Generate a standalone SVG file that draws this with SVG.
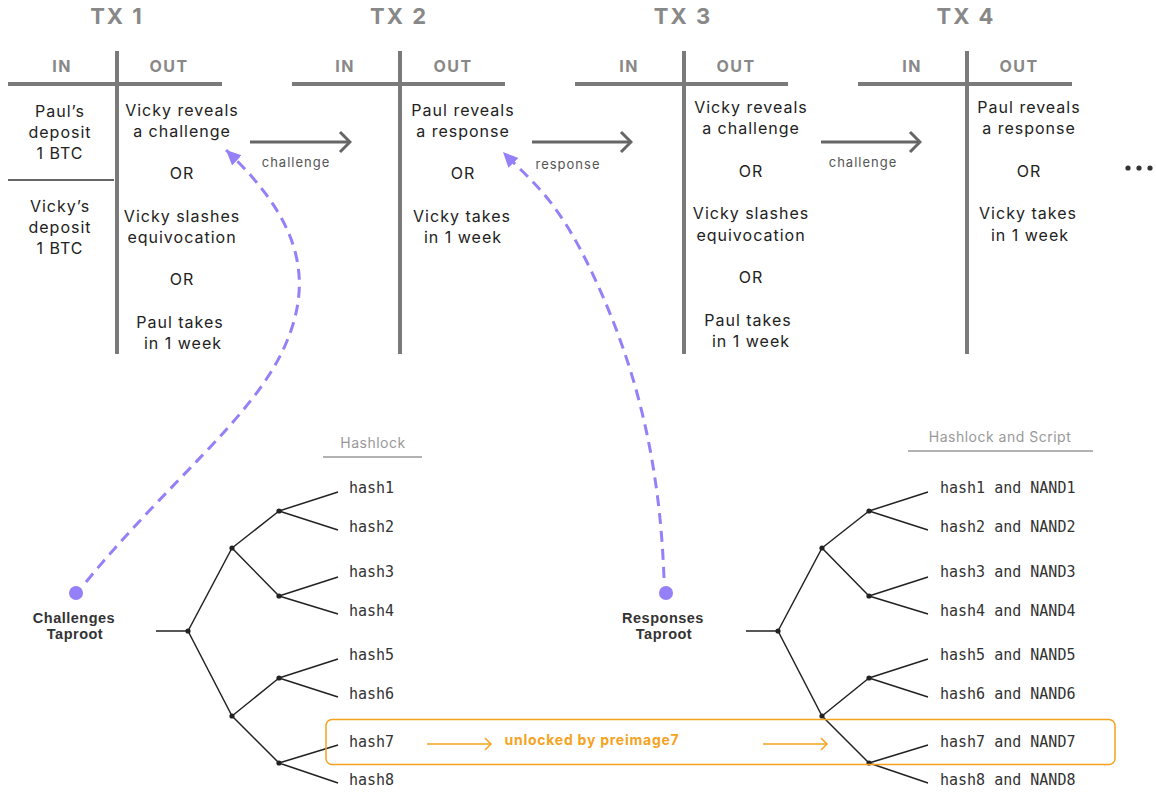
<svg xmlns="http://www.w3.org/2000/svg" width="1156" height="792" viewBox="0 0 1156 792">
<style>
.title{font-family:Inter,'Liberation Sans',sans-serif;font-weight:700;font-size:22px;fill:#888;text-anchor:middle;letter-spacing:2px}
.hdr{font-family:Inter,'Liberation Sans',sans-serif;font-weight:700;font-size:16px;fill:#888;text-anchor:middle;letter-spacing:1.5px}
.t{font-family:Inter,'Liberation Sans',sans-serif;font-size:16px;fill:#222;text-anchor:middle;letter-spacing:1px}
.thick{stroke:#7a7a7a;stroke-width:4;fill:none}
.sep{stroke:#333;stroke-width:1.5}
.lbl{font-family:Inter,'Liberation Sans',sans-serif;font-size:13px;fill:#555;text-anchor:middle;letter-spacing:1px}
.arrow{stroke:#666;stroke-width:3;fill:none;marker-end:url(#chev)}
.dash{stroke:#9580f8;stroke-width:3;fill:none;stroke-dasharray:11 7;marker-end:url(#tri)}
.tree{stroke:#222;stroke-width:1.5;fill:none}
.dot{fill:#222}
.mono{font-family:'DejaVu Sans Mono','Liberation Mono',monospace;font-size:15px;fill:#333}
.cap{font-family:Inter,'Liberation Sans',sans-serif;font-size:14px;fill:#999;text-anchor:middle;letter-spacing:0.5px}
.capline{stroke:#999;stroke-width:1.5}
.root{font-family:'Liberation Sans',Arial,sans-serif;font-weight:700;font-size:14.5px;fill:#333;text-anchor:middle;letter-spacing:0.5px}
.orbox{fill:none;stroke:#f5a31f;stroke-width:1.5}
.orarrow{stroke:#f5a31f;stroke-width:1.5;fill:none;marker-end:url(#ochev)}
.ortext{font-family:Inter,'Liberation Sans',sans-serif;font-weight:700;font-size:14px;fill:#f5a31f;text-anchor:middle;letter-spacing:0.75px}
.purple{fill:#9580f8}
</style>
<defs>
<marker id="chev" markerUnits="userSpaceOnUse" viewBox="-12 -12 14 24" refX="0" refY="0" markerWidth="14" markerHeight="24" orient="auto">
<path d="M-10,-10 L0,0 L-10,10" fill="none" stroke="#666" stroke-width="3" stroke-linejoin="miter"/>
</marker>
<marker id="ochev" markerUnits="userSpaceOnUse" viewBox="-8 -7 10 14" refX="0" refY="0" markerWidth="10" markerHeight="14" orient="auto">
<path d="M-6,-6 L0,0 L-6,6" fill="none" stroke="#f5a31f" stroke-width="1.5"/>
</marker>
<marker id="tri" markerUnits="userSpaceOnUse" viewBox="0 -8 16 16" refX="15" refY="0" markerWidth="16" markerHeight="16" orient="auto">
<path d="M0,-7 L15,0 L0,7 Z" fill="#9580f8"/>
</marker>
</defs>
<rect width="1156" height="792" fill="#fff"/>

<g id="tx1">
<text class="title" x="117" y="24">TX 1</text>
<line class="thick" x1="8" y1="84" x2="222" y2="84"/>
<line class="thick" x1="117" y1="51" x2="117" y2="354"/>
<text class="hdr" x="62" y="72">IN</text>
<text class="hdr" x="169" y="72">OUT</text>
<text class="t" x="60" y="117">Paul’s</text>
<text class="t" x="60" y="138">deposit</text>
<text class="t" x="60" y="159">1 BTC</text>
<line class="sep" x1="8" y1="180" x2="114" y2="180"/>
<text class="t" x="60" y="212">Vicky’s</text>
<text class="t" x="60" y="233">deposit</text>
<text class="t" x="60" y="254">1 BTC</text>
<text class="t" x="182" y="116">Vicky reveals</text>
<text class="t" x="182" y="137">a challenge</text>
<text class="t" x="182" y="179">OR</text>
<text class="t" x="182" y="222">Vicky slashes</text>
<text class="t" x="182" y="243">equivocation</text>
<text class="t" x="182" y="285">OR</text>
<text class="t" x="180" y="328">Paul takes</text>
<text class="t" x="183" y="349">in 1 week</text>
</g>

<g id="tx2">
<text class="title" x="399" y="24">TX 2</text>
<line class="thick" x1="292" y1="84" x2="505" y2="84"/>
<line class="thick" x1="400" y1="51" x2="400" y2="354"/>
<text class="hdr" x="345" y="72">IN</text>
<text class="hdr" x="453" y="72">OUT</text>
<text class="t" x="463" y="116">Paul reveals</text>
<text class="t" x="463" y="137">a response</text>
<text class="t" x="463" y="179">OR</text>
<text class="t" x="462" y="222">Vicky takes</text>
<text class="t" x="463" y="243">in 1 week</text>
</g>

<g id="tx3">
<text class="title" x="683" y="24">TX 3</text>
<line class="thick" x1="575" y1="84" x2="788" y2="84"/>
<line class="thick" x1="684" y1="51" x2="684" y2="354"/>
<text class="hdr" x="629" y="72">IN</text>
<text class="hdr" x="736" y="72">OUT</text>
<text class="t" x="751" y="113">Vicky reveals</text>
<text class="t" x="751" y="134">a challenge</text>
<text class="t" x="751" y="177">OR</text>
<text class="t" x="751" y="219">Vicky slashes</text>
<text class="t" x="751" y="241">equivocation</text>
<text class="t" x="751" y="283">OR</text>
<text class="t" x="748" y="326">Paul takes</text>
<text class="t" x="751" y="347">in 1 week</text>
</g>

<g id="tx4">
<text class="title" x="966" y="24">TX 4</text>
<line class="thick" x1="858" y1="84" x2="1072" y2="84"/>
<line class="thick" x1="967" y1="51" x2="967" y2="354"/>
<text class="hdr" x="912" y="72">IN</text>
<text class="hdr" x="1019" y="72">OUT</text>
<text class="t" x="1029" y="113">Paul reveals</text>
<text class="t" x="1029" y="134">a response</text>
<text class="t" x="1029" y="177">OR</text>
<text class="t" x="1028" y="219">Vicky takes</text>
<text class="t" x="1030" y="241">in 1 week</text>
</g>

<g id="ellipsis">
<circle cx="1128" cy="168" r="2.6" fill="#333"/>
<circle cx="1139" cy="168" r="2.6" fill="#333"/>
<circle cx="1150" cy="168" r="2.6" fill="#333"/>
</g>

<g id="connectors">
<path class="arrow" d="M250,142 H350"/>
<path class="arrow" d="M532,142 H631"/>
<path class="arrow" d="M821,142 H920"/>
<text class="lbl" x="296" y="167">challenge</text>
<text class="lbl" x="568" y="169">response</text>
<text class="lbl" x="863" y="167">challenge</text>
<path class="dash" d="M86,582 C170,480 250,420 283,350 S300,220 226,150"/>
<path class="dash" d="M664,578 C660,470 640,380 600,290 S535,185 503,152"/>
<g id="challenges-tree-edges" class="tree">
<path d="M156,631 H188 M188,631 L232,548 M188,631 L232,716 M232,548 L279,511 M232,548 L279,596 M232,716 L279,678 M232,716 L279,763 M279,511 L338,492 M279,511 L338,530 M279,596 L338,577 M279,596 L338,614 M279,678 L338,659 M279,678 L338,697 M279,763 L338,745 M279,763 L338,783"/>
</g>
<g id="responses-tree-edges" class="tree">
<path d="M746,631 H778 M778,631 L822,548 M778,631 L822,716 M822,548 L869,511 M822,548 L869,596 M822,716 L869,678 M822,716 L869,763 M869,511 L928,492 M869,511 L928,530 M869,596 L928,577 M869,596 L928,614 M869,678 L928,659 M869,678 L928,697 M869,763 L928,745 M869,763 L928,783"/>
</g>
<path class="orarrow" d="M427,744 H491"/>
<path class="orarrow" d="M763,744 H827"/>
</g>

<g id="challenges-taproot">
<circle class="purple" cx="76" cy="593" r="7"/>
<text class="root" x="74" y="623">Challenges</text>
<text class="root" x="75" y="639">Taproot</text>
</g>
<g id="challenges-tree">
<circle class="dot" cx="188" cy="631" r="2.6"/>
<circle class="dot" cx="232" cy="548" r="2.6"/>
<circle class="dot" cx="232" cy="716" r="2.6"/>
<circle class="dot" cx="279" cy="511" r="2.6"/>
<circle class="dot" cx="279" cy="596" r="2.6"/>
<circle class="dot" cx="279" cy="678" r="2.6"/>
<circle class="dot" cx="279" cy="763" r="2.6"/>
<text class="cap" x="373" y="448">Hashlock</text>
<line class="capline" x1="323" y1="457" x2="422" y2="457"/>
<text class="mono" x="349" y="493">hash1</text>
<text class="mono" x="349" y="532">hash2</text>
<text class="mono" x="349" y="577">hash3</text>
<text class="mono" x="349" y="616">hash4</text>
<text class="mono" x="349" y="660">hash5</text>
<text class="mono" x="349" y="699">hash6</text>
<text class="mono" x="349" y="747">hash7</text>
<text class="mono" x="349" y="785">hash8</text>
</g>

<g id="responses-taproot">
<circle class="purple" cx="666" cy="593" r="7"/>
<text class="root" x="663" y="623">Responses</text>
<text class="root" x="664" y="639">Taproot</text>
</g>
<g id="responses-tree">
<circle class="dot" cx="778" cy="631" r="2.6"/>
<circle class="dot" cx="822" cy="548" r="2.6"/>
<circle class="dot" cx="822" cy="716" r="2.6"/>
<circle class="dot" cx="869" cy="511" r="2.6"/>
<circle class="dot" cx="869" cy="596" r="2.6"/>
<circle class="dot" cx="869" cy="678" r="2.6"/>
<circle class="dot" cx="869" cy="763" r="2.6"/>
<text class="cap" x="1000" y="442">Hashlock and Script</text>
<line class="capline" x1="908" y1="451" x2="1093" y2="451"/>
<text class="mono" x="940" y="493">hash1 and NAND1</text>
<text class="mono" x="940" y="532">hash2 and NAND2</text>
<text class="mono" x="940" y="577">hash3 and NAND3</text>
<text class="mono" x="940" y="616">hash4 and NAND4</text>
<text class="mono" x="940" y="660">hash5 and NAND5</text>
<text class="mono" x="940" y="699">hash6 and NAND6</text>
<text class="mono" x="940" y="747">hash7 and NAND7</text>
<text class="mono" x="940" y="785">hash8 and NAND8</text>
</g>

<g id="preimage7">
<rect class="orbox" x="326" y="719.5" width="789" height="45" rx="6"/>
<text class="ortext" x="592" y="745">unlocked by preimage7</text>
</g>
</svg>
